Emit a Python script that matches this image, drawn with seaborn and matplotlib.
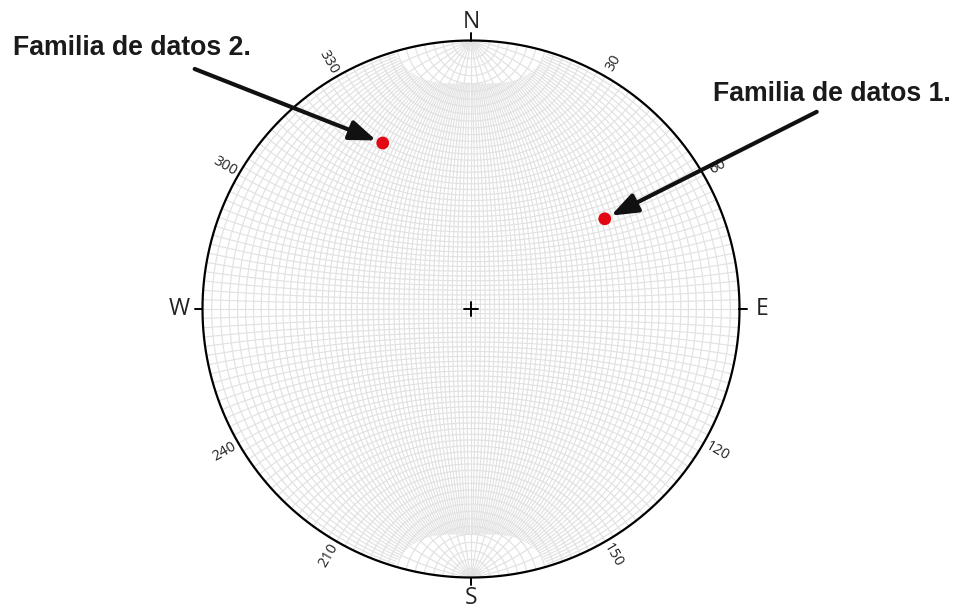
import numpy as np
import pandas as pd
import matplotlib
matplotlib.use("Agg")
import matplotlib.pyplot as plt
from matplotlib.collections import LineCollection
import seaborn as sns

# Pole data (trend / plunge, degrees) for the two joint families
families = ["Familia de datos 1.", "Familia de datos 2."]
trends = [56, 332]
plunges = [28, 20]

# Azimuth labels around the primitive
cardinal_labels = ["N", "E", "S", "W"]
cardinal_az = [0, 90, 180, 270]
degree_az = [30, 60, 120, 150, 210, 240, 300, 330]
degree_labels = [str(a) for a in degree_az]

sns.set_theme(style="white")
plt.rcParams["font.family"] = ["DejaVu Sans"]

W, H, DPI = 958, 616, 100
fig = plt.figure(figsize=(W / DPI, H / DPI), dpi=DPI)
ax = fig.add_axes([0, 0, 1, 1])
ax.set_axis_off()

# net centre and radius in pixels -> data limits with equal scale
cx, cy, R = 471.0, 309.0, 268.5
ax.set_xlim(-cx / R, (W - cx) / R)
ax.set_ylim(-(H - cy) / R, cy / R)


def wulff(lon, lat):
    """Equal-angle projection of (lon, lat) on a sphere whose pole axis is N-S."""
    lon = np.radians(lon)
    lat = np.radians(lat)
    x = np.cos(lat) * np.sin(lon)
    y = np.sin(lat)
    z = np.cos(lat) * np.cos(lon)
    return x / (1 + z), y / (1 + z)


def cap_edge(absx):
    """Outline of the polar caps, where the 2-degree great circles stop."""
    return 0.839 + 0.12 * (absx / 0.29) ** 4


def cutoff(lon):
    lat = np.linspace(0, 90, 901)
    x, y = wulff(np.full_like(lat, lon), lat)
    inside = y >= cap_edge(np.abs(x))
    return lat[np.argmax(inside)] if inside.any() else 90.0


segs = []
# great circles (meridians); only every 10 degrees enter the polar caps
for lon in range(-88, 89, 2):
    lim = 90.0 if lon % 10 == 0 else cutoff(float(lon))
    lat = np.linspace(-lim, lim, 300)
    x, y = wulff(np.full_like(lat, lon, dtype=float), lat)
    segs.append(np.column_stack([x, y]))
# small circles (parallels)
for latv in range(-88, 89, 2):
    lon = np.linspace(-90, 90, 300)
    x, y = wulff(lon, np.full_like(lon, latv, dtype=float))
    segs.append(np.column_stack([x, y]))
ax.add_collection(LineCollection(segs, colors="#e2e2e2", linewidths=0.85, zorder=1))

# primitive circle
t = np.linspace(0, 2 * np.pi, 721)
prim = pd.DataFrame({"x": np.cos(t), "y": np.sin(t)})
sns.lineplot(data=prim, x="x", y="y", sort=False, estimator=None,
             color="black", lw=1.6, ax=ax, zorder=3)

# centre cross
c = 7 / R
ax.plot([-c, c], [0, 0], color="black", lw=1.4, zorder=4)
ax.plot([0, 0], [-c, c], color="black", lw=1.4, zorder=4)

# cardinal ticks and labels
for lab, az in zip(cardinal_labels, cardinal_az):
    a = np.radians(az)
    s, co = np.sin(a), np.cos(a)
    ax.plot([s * 1.0, s * 1.028], [co * 1.0, co * 1.028], color="black", lw=1.4, zorder=4)
    ax.text(s * 1.085, co * 1.075 - (0.005 if az == 0 else 0), lab,
            ha="center", va="center", fontsize=16.5, family="Open Sans",
            color="#222222")

# degree labels, written radially
for lab, az in zip(degree_labels, degree_az):
    a = np.radians(az)
    rot = 90 - az if az < 180 else 270 - az
    ax.text(np.sin(a) * 1.06, np.cos(a) * 1.06, lab, ha="center", va="center",
            rotation=rot, rotation_mode="anchor", fontsize=10.5,
            family="Open Sans", color="#222222")

# poles
r = np.tan(np.radians(90 - np.array(plunges)) / 2)
pts = pd.DataFrame({
    "family": families,
    "x": r * np.sin(np.radians(trends)),
    "y": r * np.cos(np.radians(trends)),
})
sns.scatterplot(data=pts, x="x", y="y", color="#e30613", s=85,
                edgecolor="none", ax=ax, zorder=5, legend=False)

# arrows pointing to the poles
offsets = {"Familia de datos 1.": (152.6, 77.0),
           "Familia de datos 2.": (-135.4, 53.3)}
for _, row in pts.iterrows():
    ax.annotate("", xy=(row.x, row.y), xytext=offsets[row.family],
                textcoords="offset points",
                arrowprops=dict(arrowstyle="-|>,head_length=0.8,head_width=0.3",
                                color="#111111", lw=3.0, shrinkA=0, shrinkB=5,
                                mutation_scale=20),
                zorder=6)

# family labels
ax.text(713 / W, 1 - 94 / H, families[0], transform=ax.transAxes,
        ha="left", va="center", fontsize=19.2, fontweight="bold",
        family="Liberation Sans", color="#1a1a1a")
ax.text(13 / W, 1 - 48 / H, families[1], transform=ax.transAxes,
        ha="left", va="center", fontsize=19.2, fontweight="bold",
        family="Liberation Sans", color="#1a1a1a")

fig.savefig("out.png", dpi=DPI, facecolor="white")
